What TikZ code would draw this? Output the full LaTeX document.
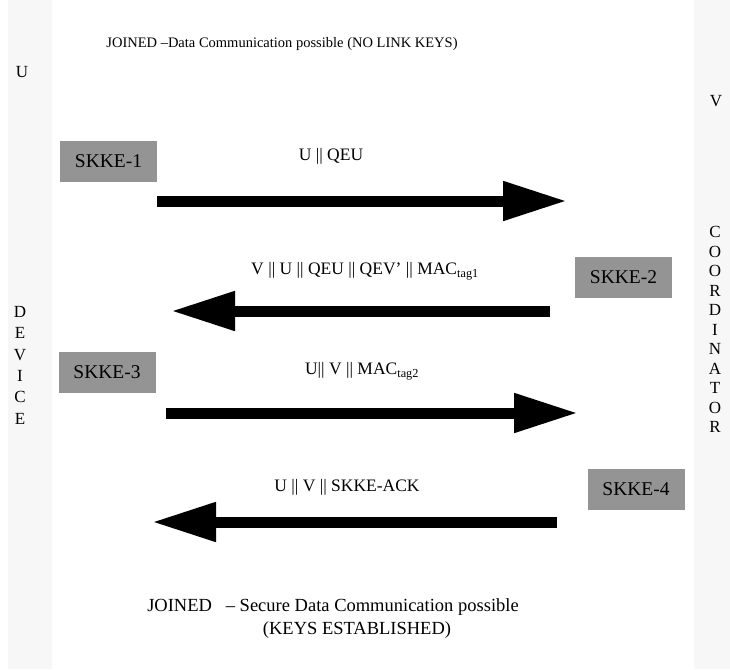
\documentclass[tikz,border=0pt]{standalone}
\usepackage{fontspec}
\setmainfont{Liberation Serif}
\usetikzlibrary{arrows.meta}
\tikzset{
  lane/.style={fill=black!3, draw=none},
  skke/.style={fill=black!42, draw=none, minimum width=97pt, minimum height=41pt, inner sep=0pt, font=\fontsize{19.5}{21}\selectfont},
  lbl/.style={inner sep=0pt, font=\fontsize{17.5}{20}\selectfont},
  toplbl/.style={inner sep=0pt, font=\fontsize{14.5}{17}\selectfont},
  botlbl/.style={inner sep=0pt, font=\fontsize{18.5}{23}\selectfont},
  vlet/.style={inner sep=0pt, font=\fontsize{17}{19}\selectfont},
  blockarrow/.style={line width=11pt, -{Triangle[length=64pt,width=37pt]}},
}
\begin{document}
\begin{tikzpicture}[x=1pt,y=-1pt]
\useasboundingbox (0,0) rectangle (730,669);
\fill[white] (0,0) rectangle (730,669);
% lanes
\path[lane] (8,0) rectangle (52,669);
\path[lane] (694,0) rectangle (730,669);
% lane labels
\node[vlet] (u) at (22,72) {U};
\node[vlet] (v) at (716,101) {V};
\foreach \l [count=\i] in {D,E,V,I,C,E}
  \node[vlet] (dev\i) at (20,{312+21.3*(\i-1)}) {\l};
\foreach \l [count=\i] in {C,O,O,R,D,I,N,A,T,O,R}
  \node[vlet] (coo\i) at (715,{232+19.5*(\i-1)}) {\l};
% titles
\node[toplbl] (top) at (282,44) {JOINED –Data Communication possible (NO LINK KEYS)};
\node[botlbl] (bot1) at (333,607) {JOINED \ \ – Secure Data Communication possible};
\node[botlbl] (bot2) at (357,630) {(KEYS ESTABLISHED)};
% SKKE boxes
\node[skke] (s1) at (108.5,161.5) {SKKE-1};
\node[skke] (s2) at (623.5,277.5) {SKKE-2};
\node[skke] (s3) at (107,372.5) {SKKE-3};
\node[skke] (s4) at (636,489) {SKKE-4};
% message labels
\node[lbl] (m1) at (331,156) {U || QEU};
\node[lbl] (m2) at (365,271) {V || U || QEU || QEV' || MAC\textsubscript{tag1}};
\node[lbl] (m3) at (362,371) {U|| V || MAC\textsubscript{tag2}};
\node[lbl] (m4) at (347,487) {U || V || SKKE-ACK};
% arrow end points
\coordinate (a1s) at (157,201);
\coordinate (a1e) at (567,201);
\coordinate (a2s) at (550,311);
\coordinate (a2e) at (171,311);
\coordinate (a3s) at (166,413);
\coordinate (a3e) at (578,413);
\coordinate (a4s) at (557,522);
\coordinate (a4e) at (152,522);
\draw[blockarrow] (a1s) -- (a1e);
\draw[blockarrow] (a2s) -- (a2e);
\draw[blockarrow] (a3s) -- (a3e);
\draw[blockarrow] (a4s) -- (a4e);
\end{tikzpicture}
\end{document}
